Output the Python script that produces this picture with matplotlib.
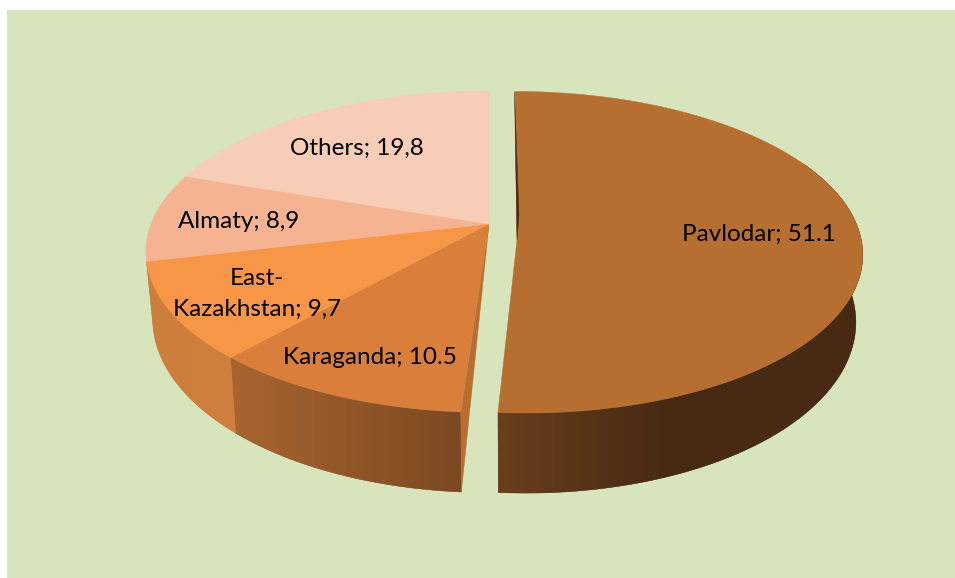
import numpy as np
import matplotlib
matplotlib.use('Agg')
import matplotlib.pyplot as plt
from matplotlib.colors import to_rgb

# data
regions = ['Pavlodar', 'Karaganda', 'East-\nKazakhstan', 'Almaty', 'Others']
shares = [51.1, 10.5, 9.7, 8.9, 19.8]
share_labels = ['51.1', '10.5', '9,7', '8,9', '19,8']

# colours
bg_color = '#d8e4bc'
top_colors = ['#b76e31', '#d97f3b', '#f79646', '#f5b391', '#f8cdb8']
wall_left = ['#6a3f1c', '#a9652f', '#cc7e3c']
wall_right = ['#482a13', '#7b4922', '#cf803e']
cut_color = '#b86e31'
sliver_color = '#4a2a12'

# pie shape in pixels, fake 3d with a simple perspective
rx, ry, persp = 338, 156, 0.1725
wall_h, wall_g, wall_f = 65, 1.08, 0.98


def rim(theta, skew=0.0, rx_=rx):
    s = 1 / (1 + persp * np.cos(theta))
    dy = -ry * np.cos(theta) * s
    dx = rx_ * np.sin(theta) * s
    return dx + skew * dy, dy


fig = plt.figure(figsize=(9.55, 5.78), dpi=100, facecolor='white')
ax = fig.add_axes([0, 0, 1, 1])
ax.add_patch(plt.Rectangle((7, 10), 948, 568, color=bg_color, lw=0, zorder=0))

edges = np.cumsum([0] + shares) / sum(shares) * 2 * np.pi

for i in range(len(shares)):
    if i == 0:
        cx, cy, skew, r = 519.6, 224.5, 0.0345, 337
    else:
        cx, cy, skew, r = 489, 224, 0.0, rx
    th = np.linspace(edges[i], edges[i + 1], int(np.degrees(edges[i + 1] - edges[i])) * 2 + 2)
    dx, dy = rim(th, skew, r)
    xt, yt = cx + dx, cy + dy
    xb, yb = cx + dx * wall_f, cy + dy * wall_g + wall_h

    # outer wall, gradient image clipped to the wall shape (only 3 front slices show one)
    if i < len(wall_left):
        front = yb > cy
        wx = np.r_[xt[front], xb[front][::-1]]
        wy = np.r_[yt[front], yb[front][::-1]]
        c0, c1 = np.array(to_rgb(wall_left[i])), np.array(to_rgb(wall_right[i]))
        lo, hi = wx.min(), wx.max()
        f = np.linspace(0, 1, 256)
        if i == 0:
            f = np.minimum(1, f * 2.2)
        grad = (c0 + (c1 - c0) * f[:, None])[None, :, :]
        poly = ax.fill(wx, wy, color=c0 * 0.5 + c1 * 0.5, lw=0.3, zorder=2)[0]
        im = ax.imshow(grad, extent=(lo, hi, wy.max(), wy.min()), aspect='auto', zorder=2.1,
                       interpolation='bilinear')
        im.set_clip_path(poly)

    if i == 0:
        # the notch in the left edge of the big slice
        nx, ny = cx - 2.6, cy + 15.5
        ax.fill([xt[0] - 0.5, nx + 2, nx], [yt[0], ny - 25, ny], color=sliver_color, lw=0.3, zorder=4)
        ax.fill(np.r_[nx, xt], np.r_[ny, yt], color=top_colors[i], lw=0.3, zorder=3)
    else:
        if i == 1:
            # inner cut face next to the gap
            ax.fill([cx, xt[0], xb[0]], [cy, yt[0], yb[0]], color=cut_color, lw=0.3, zorder=2.5)
        ax.fill(np.r_[cx, xt], np.r_[cy, yt], color=top_colors[i], lw=0.3, zorder=3)

# labels
label_xy = [(759, 234), (370, 358), (257, 294), (239, 222), (357, 148)]
for name, val, (x, y) in zip(regions, share_labels, label_xy):
    ax.text(x, y, name + '; ' + val, family='Lato', fontsize=17.5, color='black',
            ha='center', va='center', linespacing=1.6, zorder=5)

ax.set_xlim(0, 955)
ax.set_ylim(578, 0)
ax.axis('off')
fig.savefig('out.png', dpi=100)
